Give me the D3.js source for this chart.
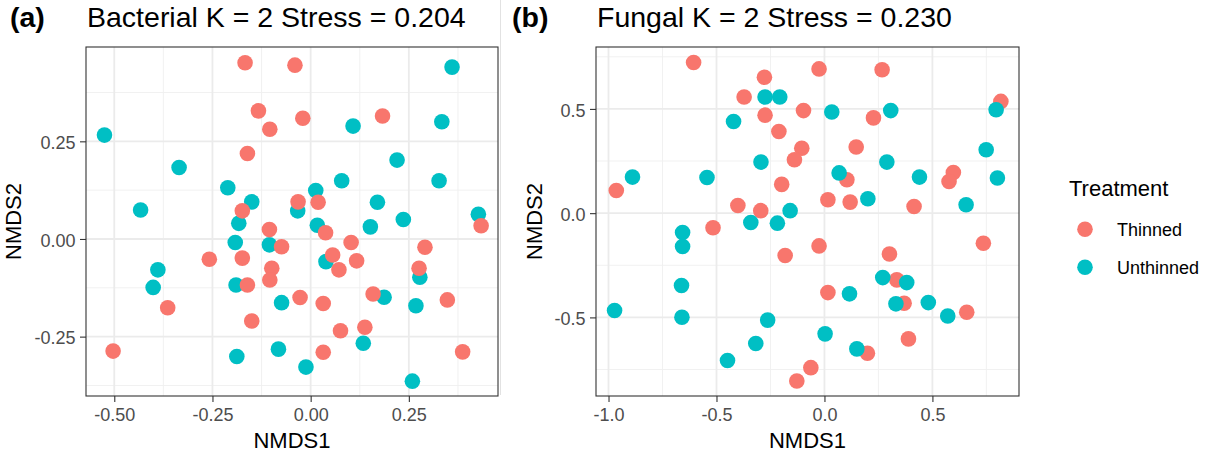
<!DOCTYPE html>
<html>
<head>
<meta charset="utf-8">
<script src="https://cdn.jsdelivr.net/npm/d3@7"></script>
<style>
  body { margin: 0; background: #fff; }
  svg { display: block; font-family: "Liberation Sans", Arial, Helvetica, sans-serif; }
</style>
</head>
<body>
<svg id="chart" width="1212" height="457"></svg>
<script>
// ---- NMDS ordination scores (NMDS1, NMDS2) ----
const bacterialThinned = [
  [-0.167, 0.451], [-0.040, 0.445], [-0.133, 0.328], [-0.104, 0.281], [-0.020, 0.309],
  [0.183, 0.315], [-0.161, 0.219], [-0.174, 0.072], [-0.032, 0.095], [0.019, 0.094],
  [-0.105, 0.024], [0.038, 0.016], [0.434, 0.034], [-0.074, -0.020], [-0.258, -0.052],
  [-0.174, -0.049], [0.103, -0.009], [0.291, -0.021], [-0.099, -0.075], [-0.104, -0.105],
  [-0.161, -0.118], [0.056, -0.041], [0.117, -0.056], [0.072, -0.079], [0.276, -0.075],
  [-0.027, -0.150], [0.032, -0.165], [0.159, -0.141], [0.348, -0.156], [-0.364, -0.176],
  [-0.150, -0.210], [0.076, -0.235], [0.138, -0.226], [-0.503, -0.287], [0.032, -0.290],
  [0.387, -0.289]
];
const bacterialUnthinned = [
  [-0.525, 0.266], [0.360, 0.440], [0.108, 0.289], [0.334, 0.300], [0.220, 0.202],
  [-0.335, 0.183], [-0.211, 0.131], [0.079, 0.149], [0.327, 0.149], [0.013, 0.124],
  [-0.150, 0.095], [-0.433, 0.074], [-0.033, 0.072], [0.170, 0.094], [-0.183, 0.040],
  [0.236, 0.050], [0.017, 0.035], [0.152, 0.031], [0.427, 0.063], [-0.192, -0.009],
  [-0.105, -0.015], [-0.389, -0.079], [-0.401, -0.124], [-0.190, -0.118], [0.039, -0.058],
  [0.278, -0.098], [-0.074, -0.163], [0.187, -0.149], [0.268, -0.171], [0.134, -0.267],
  [-0.082, -0.282], [-0.188, -0.301], [-0.012, -0.328], [0.259, -0.364]
];
const fungalThinned = [
  [-0.606, 0.723], [-0.278, 0.652], [-0.372, 0.557], [-0.275, 0.470], [-0.211, 0.392],
  [-0.198, 0.138], [-0.964, 0.109], [-0.401, 0.037], [-0.295, 0.012], [-0.516, -0.070],
  [-0.025, 0.692], [0.267, 0.688], [-0.097, 0.492], [0.227, 0.457], [0.817, 0.536],
  [0.147, 0.317], [-0.105, 0.311], [-0.139, 0.256], [0.104, 0.160], [0.597, 0.195],
  [0.577, 0.152], [0.016, 0.064], [0.119, 0.053], [0.415, 0.032], [-0.182, -0.203],
  [-0.025, -0.157], [0.301, -0.196], [0.736, -0.144], [0.335, -0.320], [0.016, -0.381],
  [0.369, -0.432], [0.659, -0.475], [0.389, -0.603], [0.199, -0.672], [-0.063, -0.741],
  [-0.128, -0.805]
];
const fungalUnthinned = [
  [-0.275, 0.557], [-0.207, 0.557], [-0.421, 0.440], [-0.294, 0.245], [-0.889, 0.173],
  [-0.544, 0.171], [-0.341, -0.045], [-0.218, -0.048], [-0.657, -0.093], [0.034, 0.485],
  [0.307, 0.492], [0.795, 0.496], [0.068, 0.193], [0.289, 0.245], [0.749, 0.304],
  [0.440, 0.173], [0.801, 0.169], [0.201, 0.069], [0.656, 0.040], [-0.159, 0.012],
  [-0.657, -0.160], [-0.662, -0.347], [-0.660, -0.499], [-0.972, -0.467], [-0.263, -0.513],
  [-0.318, -0.625], [-0.449, -0.707], [0.270, -0.309], [0.381, -0.333], [0.116, -0.387],
  [0.331, -0.435], [0.481, -0.429], [0.571, -0.493], [0.003, -0.579], [0.150, -0.651]
];

// ---- axis breaks and labels ----
const bacterialXTicks = [-0.5, -0.25, 0, 0.25];
const bacterialXLabels = ["-0.50", "-0.25", "0.00", "0.25"];
const bacterialYTicks = [-0.25, 0, 0.25];
const bacterialYLabels = ["-0.25", "0.00", "0.25"];
const fungalXTicks = [-1, -0.5, 0, 0.5];
const fungalXLabels = ["-1.0", "-0.5", "0.0", "0.5"];
const fungalYTicks = [-0.5, 0, 0.5];
const fungalYLabels = ["-0.5", "0.0", "0.5"];

// ---- panel limits (data range plus 5% padding) ----
const bacterialXLimits = [-0.572, 0.477];
const bacterialYLimits = [-0.402, 0.4915];
const fungalXLimits = [-1.058, 0.901];
const fungalYLimits = [-0.877, 0.797];

const groups = ["Thinned", "Unthinned"];
const groupColors = ["#F8766D", "#00BFC4"];

const svg = d3.select("#chart");
const color = d3.scaleOrdinal().domain(groups).range(groupColors);
const R = 7.8;

function minorBreaks(ticks, domain) {
  const step = ticks[1] - ticks[0];
  const out = [];
  const first = ticks[0] - step / 2;
  for (let v = first; v <= domain[1] + 1e-9; v += step) {
    if (v >= domain[0] - 1e-9) out.push(v);
  }
  return out;
}

function drawPanel(cfg) {
  const g = svg.append("g");
  const x = d3.scaleLinear().domain(cfg.xLim).range([cfg.left, cfg.right]);
  const y = d3.scaleLinear().domain(cfg.yLim).range([cfg.bottom, cfg.top]);

  // panel background
  g.append("rect")
    .attr("x", cfg.left).attr("y", cfg.top)
    .attr("width", cfg.right - cfg.left).attr("height", cfg.bottom - cfg.top)
    .attr("fill", "#fff");

  // minor grid
  const grid = g.append("g").attr("fill", "none");
  grid.selectAll(".mx").data(minorBreaks(cfg.xTicks, cfg.xLim)).join("line")
    .attr("x1", d => x(d)).attr("x2", d => x(d))
    .attr("y1", cfg.top).attr("y2", cfg.bottom)
    .attr("stroke", "#EFEFEF").attr("stroke-width", 0.9);
  grid.selectAll(".my").data(minorBreaks(cfg.yTicks, cfg.yLim)).join("line")
    .attr("y1", d => y(d)).attr("y2", d => y(d))
    .attr("x1", cfg.left).attr("x2", cfg.right)
    .attr("stroke", "#EFEFEF").attr("stroke-width", 0.9);
  // major grid
  grid.selectAll(".Mx").data(cfg.xTicks).join("line")
    .attr("x1", d => x(d)).attr("x2", d => x(d))
    .attr("y1", cfg.top).attr("y2", cfg.bottom)
    .attr("stroke", "#EBEBEB").attr("stroke-width", 1.8);
  grid.selectAll(".My").data(cfg.yTicks).join("line")
    .attr("y1", d => y(d)).attr("y2", d => y(d))
    .attr("x1", cfg.left).attr("x2", cfg.right)
    .attr("stroke", "#EBEBEB").attr("stroke-width", 1.8);

  // points, one layer per treatment
  cfg.layers.forEach(layer => {
    g.append("g").selectAll("circle").data(layer.values).join("circle")
      .attr("cx", d => x(d[0])).attr("cy", d => y(d[1]))
      .attr("r", R).attr("fill", color(layer.group));
  });

  // panel border
  g.append("rect")
    .attr("x", cfg.left).attr("y", cfg.top)
    .attr("width", cfg.right - cfg.left).attr("height", cfg.bottom - cfg.top)
    .attr("fill", "none").attr("stroke", "#333333").attr("stroke-width", 1.1);

  // axes
  const xAxis = g.append("g").attr("transform", `translate(0,${cfg.bottom})`)
    .call(d3.axisBottom(x).tickValues(cfg.xTicks)
      .tickFormat((d, i) => cfg.xLabels[i]).tickSize(6).tickPadding(6.7));
  const yAxis = g.append("g").attr("transform", `translate(${cfg.left},0)`)
    .call(d3.axisLeft(y).tickValues(cfg.yTicks)
      .tickFormat((d, i) => cfg.yLabels[i]).tickSize(6).tickPadding(4.5));
  [xAxis, yAxis].forEach(a => {
    a.select(".domain").remove();
    a.selectAll(".tick line").attr("stroke", "#333333").attr("stroke-width", 1.1);
    a.selectAll(".tick text").attr("fill", "#4D4D4D")
      .style("font-size", "18px").style("font-family", "'Liberation Sans', Arial, sans-serif");
  });
  yAxis.selectAll(".tick text").attr("dy", "0.4em");

  // axis titles
  g.append("text").attr("x", (cfg.left + cfg.right) / 2).attr("y", 448.3)
    .attr("text-anchor", "middle").style("font-size", "22px").attr("fill", "#000")
    .text("NMDS1");
  g.append("text")
    .attr("transform", `translate(${cfg.yTitleX},${(cfg.top + cfg.bottom) / 2}) rotate(-90)`)
    .attr("text-anchor", "middle").style("font-size", "22px").attr("fill", "#000")
    .text("NMDS2");

  // tag and title
  g.append("text").attr("x", cfg.tagX).attr("y", 27)
    .style("font-size", "28.5px").style("font-weight", "bold").attr("fill", "#000")
    .text(cfg.tag);
  g.append("text").attr("x", cfg.left + 1).attr("y", 27)
    .style("font-size", "28.5px").attr("fill", "#000")
    .text(cfg.title);
}

drawPanel({
  left: 86, right: 498, top: 47, bottom: 396,
  xLim: bacterialXLimits, yLim: bacterialYLimits,
  xTicks: bacterialXTicks, xLabels: bacterialXLabels,
  yTicks: bacterialYTicks, yLabels: bacterialYLabels,
  yTitleX: 20.5, tagX: 10, tag: "(a)",
  title: "Bacterial K = 2 Stress = 0.204",
  layers: [
    { group: "Unthinned", values: bacterialUnthinned },
    { group: "Thinned", values: bacterialThinned }
  ]
});

drawPanel({
  left: 596, right: 1019, top: 47, bottom: 396,
  xLim: fungalXLimits, yLim: fungalYLimits,
  xTicks: fungalXTicks, xLabels: fungalXLabels,
  yTicks: fungalYTicks, yLabels: fungalYLabels,
  yTitleX: 541.5, tagX: 512, tag: "(b)",
  title: "Fungal K = 2 Stress = 0.230",
  layers: [
    { group: "Thinned", values: fungalThinned },
    { group: "Unthinned", values: fungalUnthinned }
  ]
});

// faint edge between the two plots
svg.append("line").attr("x1", 500.5).attr("x2", 500.5).attr("y1", 0).attr("y2", 395)
  .attr("stroke", "#E2E2E2").attr("stroke-width", 1);

// legend
const legend = svg.append("g");
legend.append("text").attr("x", 1069).attr("y", 195.5)
  .style("font-size", "22px").attr("fill", "#000").text("Treatment");
const items = legend.selectAll(".item").data(groups).join("g")
  .attr("transform", (d, i) => `translate(0,${229.3 + i * 38})`);
items.append("circle").attr("cx", 1085).attr("cy", 0).attr("r", R)
  .attr("fill", d => color(d));
items.append("text").attr("x", 1117).attr("y", 6.7)
  .style("font-size", "18px").attr("fill", "#000").text(d => d);
</script>
</body>
</html>
